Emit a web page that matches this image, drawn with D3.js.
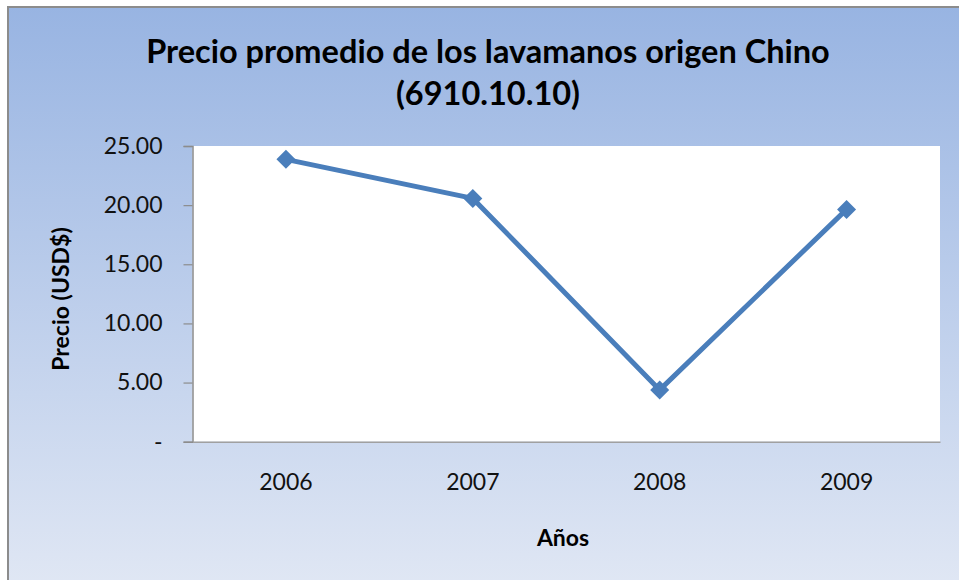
<!DOCTYPE html>
<html><head><meta charset="utf-8">
<script src="https://cdn.jsdelivr.net/npm/d3@7"></script>
<style>body{margin:0;background:#fff}svg{display:block}</style>
</head><body>
<script>
const years = ["2006","2007","2008","2009"];
const precios = [23.87, 20.57, 4.38, 19.64];
const yTicks = [0,5,10,15,20,25];
const titleLines = ["Precio promedio de los lavamanos origen Chino","(6910.10.10)"];
const xTitle = "Años";
const yTitle = "Precio (USD$)";

const W=959,H=580;
const svg=d3.select("body").append("svg").attr("width",W).attr("height",H);
const defs=svg.append("defs");
const g=defs.append("linearGradient").attr("id","bg").attr("x1",0).attr("y1",0).attr("x2",0).attr("y2",1);
g.append("stop").attr("offset","0%").attr("stop-color","#98b4e2");
g.append("stop").attr("offset","100%").attr("stop-color","#e0e7f4");
svg.append("rect").attr("x",8).attr("y",7).attr("width",W).attr("height",H).attr("fill","url(#bg)");
svg.append("path").attr("d",`M8,${H} L8,7 L${W},7`).attr("fill","none").attr("stroke","#8c8c8c").attr("stroke-width",2);

const L=192.5,R=940,T=146,B=441.7;
const x=d3.scaleBand().domain(years).range([L,R]).padding(0);
const y=d3.scaleLinear().domain([0,25]).range([B,T]);
svg.append("rect").attr("x",L).attr("y",T).attr("width",R-L).attr("height",B-T).attr("fill","#fff");

const font="Lato, 'Open Sans', sans-serif";
const ya=svg.append("g").attr("transform",`translate(${L},0)`)
 .call(d3.axisLeft(y).tickValues(yTicks).tickSize(9).tickPadding(21)
   .tickFormat(d=>d===0?"-":d3.format(".2f")(d)));
ya.select(".domain").attr("stroke","#8c8c8c").attr("stroke-width",1.5);
ya.selectAll(".tick line").attr("stroke","#8c8c8c").attr("stroke-width",1.2);
ya.selectAll("text").attr("font-family",font).attr("font-size",23).attr("fill","#111");

const xa=svg.append("g").attr("transform",`translate(0,${B})`)
 .call(d3.axisBottom(x).tickSize(0).tickPadding(32));
xa.select(".domain").attr("stroke","#a0a0a0").attr("stroke-width",1.5);
xa.selectAll("text").attr("font-family",font).attr("font-size",23).attr("fill","#111");

const line=d3.line().x((d,i)=>x(years[i])+x.bandwidth()/2).y(d=>y(d));
svg.append("path").datum(precios).attr("d",line).attr("fill","none")
 .attr("stroke","#4a7ebb").attr("stroke-width",5).attr("stroke-linejoin","round");
svg.selectAll(".mk").data(precios).enter().append("path")
 .attr("transform",(d,i)=>`translate(${x(years[i])+x.bandwidth()/2},${y(d)})`)
 .attr("d","M0,-9.5 L9.5,0 L0,9.5 L-9.5,0Z").attr("fill","#4a7ebb");

svg.selectAll(".tt").data(titleLines).enter().append("text")
 .attr("x",488).attr("y",(d,i)=>63+i*42).attr("text-anchor","middle")
 .attr("font-family",font).attr("font-weight","bold").attr("font-size",32.5).attr("fill","#000")
 .text(d=>d);
svg.append("text").attr("x",563).attr("y",546).attr("text-anchor","middle")
 .attr("font-family",font).attr("font-weight","bold").attr("font-size",23).text(xTitle);
svg.append("text").attr("transform","translate(69,299) rotate(-90)").attr("text-anchor","middle")
 .attr("font-family",font).attr("font-weight","bold").attr("font-size",23).text(yTitle);
</script>
</body></html>
